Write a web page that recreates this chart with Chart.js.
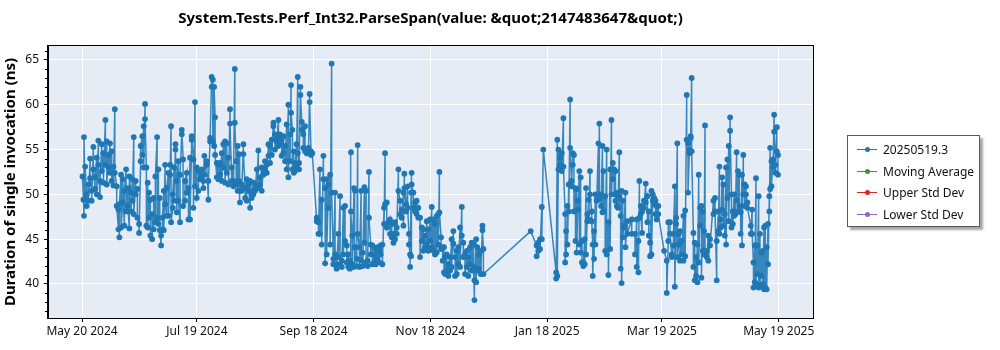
<!DOCTYPE html>
<html>
<head>
<meta charset="utf-8">
<script src="https://cdn.jsdelivr.net/npm/chart.js@4.4.1/dist/chart.umd.min.js"></script>
<style>
  body { margin: 0; background: #fff; }
  #wrap { position: relative; width: 1000px; height: 350px; }
  #legend {
    position: absolute; left: 847px; top: 135px; width: 133px; height: 92px;
    box-sizing: border-box; border: 1px solid #5a5a5a; background: #fff;
    box-shadow: 3px 3px 2px rgba(0,0,0,0.35);
    font: 12px "Noto Sans", sans-serif; color: #111; padding-top: 3px;
  }
  .row { height: 21.5px; display: flex; align-items: center; }
  .sw { position: relative; width: 20px; height: 12px; margin: 0 6px 0 9px; }
  .sw:before { content: ""; position: absolute; left: 0; right: 0; top: 5.5px; height: 1.2px; background: var(--c); }
  .sw:after { content: ""; position: absolute; left: 7.5px; top: 3.5px; width: 5px; height: 5px; border-radius: 50%; background: var(--c); }
</style>
</head>
<body>
<div id="wrap">
  <canvas id="perfChart" width="1000" height="350"></canvas>
  <div id="legend"></div>
</div>
<script>
// days since May 20 2024 for each run; runA / runB = the measured durations (ns) on that day
const runDays = [
  0.2,0.7,1.0,1.6,2.4,3.3,4.2,5.0,5.9,6.8,7.7,8.5,9.4,10.3,11.1,12.2,12.9,13.8,14.6,15.5,16.4,17.1,18.1,19.0,19.5,
  20.4,21.2,22.1,23.0,23.9,24.7,25.6,26.3,27.0,28.0,28.9,29.8,30.6,31.5,32.2,32.9,33.6,34.3,35.0,35.7,36.6,37.4,38.3,
  39.2,39.9,40.6,41.3,42.0,42.7,43.4,44.2,45.1,46.0,46.5,47.4,48.1,48.8,49.5,50.3,51.2,52.1,52.8,53.8,54.7,55.6,56.4,
  57.3,58.2,59.0,59.9,60.8,
  61.6,62.5,63.4,63.9,65.1,66.0,66.9,67.7,68.3,69.0,69.5,70.4,71.2,72.1,73.0,73.8,74.7,75.6,76.5,77.3,78.2,79.1,79.8,
  80.5,81.3,82.0,82.5,83.4,84.3,85.2,86.0,86.9,87.8,88.6,89.5,90.4,91.3,92.1,93.0,93.9,94.7,95.6,96.5,97.4,98.2,99.1,
  100.0,100.8,101.7,102.6,103.4,104.3,105.2,106.1,106.9,107.8,108.7,109.2,109.9,110.6,111.3,112.0,112.7,113.4,114.1,
  114.8,115.6,116.5,117.4,118.3,118.9,119.6,120.3,
  122.6,123.5,124.3,125.2,126.1,127.0,127.8,128.7,129.6,130.4,131.3,132.2,133.0,133.9,134.8,135.7,136.5,137.4,138.3,
  139.1,140.0,140.5,141.2,142.1,142.6,143.5,144.0,144.9,145.8,146.6,147.5,148.4,149.2,149.9,150.8,151.7,152.6,153.4,
  154.3,155.2,156.0,156.9,157.8,158.3,159.2,160.0,160.9,161.8,162.7,163.5,164.4,165.3,166.1,167.0,167.9,168.4,169.3,
  170.1,170.8,171.4,171.9,172.2,173.1,174.0,174.8,175.7,
  176.6,177.5,178.3,179.2,180.1,180.9,181.8,182.7,183.6,184.4,185.3,186.2,186.7,187.6,188.4,189.1,189.7,190.5,191.4,
  192.3,193.1,194.0,194.9,195.8,196.6,197.5,198.4,199.2,200.1,201.0,201.8,202.7,203.6,204.5,205.0,205.9,206.5,207.4,
  208.3,209.2,209.7,234.4,237.5,238.4,239.3,240.2,241.0,
  247.7,248.3,248.9,249.7,250.6,251.5,252.4,252.9,253.6,254.3,255.0,255.7,256.4,257.0,257.8,258.4,259.1,259.8,260.5,
  261.2,261.9,262.6,263.3,264.0,264.7,265.4,266.3,266.8,267.5,268.2,268.9,269.8,270.3,271.2,271.9,272.4,273.3,274.1,
  275.0,275.9,276.6,277.3,278.0,278.7,279.4,280.0,280.7,281.4,281.9,282.5,283.2,283.9,284.9,287.2,288.9,289.8,290.7,
  291.2,291.9,292.6,293.6,294.5,295.4,296.1,296.8,297.5,298.2,298.9,299.6,300.2,301.1,304.1,
  305.5,306.3,307.2,308.1,309.0,309.7,310.4,311.0,311.7,312.4,313.3,314.2,315.1,315.9,316.6,317.3,318.0,318.5,319.4,
  320.1,320.8,321.5,322.2,322.9,323.6,324.3,325.0,325.5,326.4,327.2,328.1,329.9,330.7,331.6,332.5,333.0,333.7,334.4,
  335.1,335.8,336.5,337.2,337.9,338.6,339.3,340.0,340.7,341.4,342.0,342.7,343.4,344.1,344.8,345.5,346.2,346.9,347.6,
  349.4,350.1,350.8,351.5,352.1,352.8,353.5,354.2,355.0,355.6,356.3,357.0,357.7,358.4,359.1,359.5,360.2,361.0,361.6,
  362.3,363.0,363.6
];
const runA = [
  52.0,49.4,47.6,49.4,50.0,51.1,54.0,50.4,55.3,50.6,54.1,56.0,49.7,55.6,54.6,58.3,55.9,54.4,55.7,54.8,53.1,59.5,50.9,46.1,45.2,
  52.2,49.1,46.5,52.8,50.7,46.2,50.2,51.7,56.4,51.5,50.6,46.7,53.7,56.5,57.6,60.1,53.0,51.3,50.2,49.4,45.0,46.1,46.9,
  56.4,52.8,49.6,44.3,46.1,50.4,53.3,47.6,52.4,53.3,57.6,48.5,53.0,55.6,48.0,53.7,46.9,56.7,53.9,49.3,52.4,50.7,54.1,
  56.1,53.9,60.3,53.0,50.4,
  52.6,52.8,50.7,54.3,53.7,49.4,55.9,63.1,62.8,55.4,58.6,51.9,53.3,53.5,54.6,55.6,55.9,55.7,54.1,59.5,51.5,50.9,64.0,
  53.7,55.4,54.5,49.1,51.1,55.6,50.7,49.3,50.4,48.5,50.2,51.3,50.7,52.8,54.9,51.9,53.0,52.8,53.7,53.3,55.6,55.4,56.1,
  58.0,56.7,56.3,58.3,56.7,56.1,56.5,55.4,57.8,60.0,56.7,62.2,57.2,54.8,53.5,55.6,63.1,53.5,62.0,
  58.1,56.7,57.6,55.0,55.2,61.2,54.8,54.6,
  47.0,46.9,52.8,49.4,54.3,50.7,51.7,51.1,52.2,64.6,42.8,50.2,42.2,45.6,49.8,42.6,48.5,48.7,44.3,
  43.3,42.6,54.7,45.4,50.7,50.4,42.8,55.5,44.1,50.4,43.5,50.8,50.4,42.6,52.5,44.4,44.3,43.3,43.9,
  44.1,43.7,44.3,44.4,48.5,54.6,49.1,46.9,47.2,46.7,45.6,46.9,46.3,52.8,49.3,48.3,50.2,52.3,48.9,
  50.9,45.6,43.3,50.2,52.4,50.2,49.1,49.3,48.5,
  47.4,46.3,46.1,45.4,47.0,46.1,47.2,48.6,47.2,46.7,47.6,47.8,52.5,45.2,44.1,44.1,43.0,43.3,42.2,
  43.0,45.0,45.9,43.0,43.7,44.1,46.3,48.6,44.6,43.3,43.7,43.0,44.1,44.6,44.4,38.2,45.0,44.1,43.3,
  43.7,46.5,43.9,45.9,44.3,44.6,45.0,48.6,55.0,
  41.3,56.1,55.0,54.1,54.6,58.5,47.8,45.9,48.7,51.1,60.6,51.5,54.6,54.4,50.7,50.6,49.3,52.6,51.9,
  44.8,42.4,45.0,50.7,47.8,49.4,52.6,48.1,44.4,45.9,50.0,49.4,55.7,57.9,50.0,55.4,52.6,49.8,55.0,
  46.9,52.8,58.3,53.5,52.8,52.6,50.2,49.6,54.7,47.6,50.4,49.3,46.5,50.2,47.0,47.2,45.6,47.2,44.8,
  51.5,48.7,45.7,49.3,51.2,49.8,48.1,44.6,50.4,50.0,49.6,49.3,48.7,48.7,43.7,
  42.6,44.8,46.9,43.3,44.3,50.9,47.4,55.7,44.4,45.9,44.8,47.6,48.2,61.1,55.7,55.0,56.3,63.0,45.7,
  44.6,43.0,44.4,52.2,48.5,48.7,48.1,45.9,57.7,43.7,45.4,45.0,49.3,49.6,40.4,48.1,53.1,47.2,51.9,
  51.1,47.8,53.0,53.9,55.4,58.6,50.0,48.1,50.0,48.1,54.7,52.6,52.2,48.0,52.2,54.4,51.1,50.9,49.1,
  46.5,48.3,42.4,44.3,51.8,44.3,49.8,45.6,43.5,43.7,46.3,46.5,44.1,46.7,49.8,55.2,53.7,53.9,58.9,
  53.3,57.5,54.4
];
const runB = [
  null,null,56.4,53.1,48.7,49.3,51.8,49.3,52.8,51.9,50.0,53.3,51.5,52.6,51.3,53.3,51.1,53.0,52.4,51.5,51.0,52.4,48.7,48.3,48.9,
  46.3,51.7,50.4,48.1,48.7,52.0,48.1,49.3,47.8,50.0,47.4,45.7,55.4,54.4,53.0,58.4,46.5,46.3,47.4,45.4,47.8,49.6,52.0,
  47.4,46.7,46.0,45.4,47.4,46.0,48.9,50.7,47.6,52.2,46.9,50.0,49.3,55.0,51.5,49.3,52.2,57.2,48.7,51.5,50.2,47.2,47.2,
  56.5,48.5,50.9,49.6,52.6,
  51.7,52.0,51.5,52.2,53.3,51.5,56.3,62.0,55.9,62.0,54.4,53.5,51.7,52.2,51.5,53.0,51.3,52.4,51.1,57.9,53.0,51.5,58.0,
  51.1,50.4,51.5,50.4,50.4,54.5,49.6,51.7,51.1,51.5,49.6,50.0,50.4,50.9,50.7,51.1,50.4,52.2,52.8,52.4,54.3,53.5,54.4,
  57.6,55.0,55.9,55.4,55.7,54.3,54.6,53.7,52.8,51.9,53.7,59.1,52.8,52.4,52.6,53.1,54.6,52.8,61.1,
  57.2,55.2,54.8,54.6,55.0,60.3,54.4,null,
  47.4,45.6,45.6,44.4,51.7,42.3,43.3,48.5,44.4,50.2,42.2,43.3,41.7,43.0,42.2,41.9,43.3,44.8,42.4,
  41.9,41.7,48.1,42.2,41.9,44.1,42.0,45.6,41.9,42.6,42.0,44.6,42.4,42.0,47.4,43.3,42.2,42.4,42.2,
  42.8,42.4,43.3,42.2,46.7,48.9,46.3,46.5,45.6,45.2,44.6,45.0,45.6,50.4,47.8,47.4,46.5,50.7,48.1,
  48.5,44.4,41.9,43.1,51.1,48.5,48.1,47.8,47.4,
  43.0,44.8,43.7,44.1,44.4,43.7,44.8,44.1,43.7,43.3,43.5,44.4,48.0,43.9,42.6,41.3,41.1,41.5,40.9,
  41.5,41.9,44.5,40.9,41.1,42.2,41.9,45.4,43.0,41.1,41.9,40.9,42.2,41.5,41.9,40.4,40.2,41.5,41.7,
  41.1,46.0,41.1,null,43.1,43.7,43.9,45.0,null,
  40.6,40.9,52.8,53.3,52.6,53.1,42.4,43.3,44.4,48.1,55.2,50.9,53.3,48.1,44.8,43.5,48.3,44.4,43.5,
  42.4,42.0,42.2,43.3,47.0,47.2,50.0,47.0,40.9,42.8,44.4,49.3,49.4,49.6,48.7,48.0,48.1,43.7,43.3,
  41.0,43.9,50.0,51.7,50.0,49.3,48.7,48.5,49.8,41.7,40.1,45.2,46.3,44.1,45.6,45.6,43.3,41.9,41.3,
  47.4,47.8,48.1,48.5,49.1,46.9,45.4,43.1,43.3,49.3,48.9,47.8,47.2,47.8,null,
  39.0,46.9,45.6,43.0,45.6,39.7,46.7,43.0,45.6,42.6,43.3,42.6,43.1,56.1,50.2,54.6,56.5,54.8,41.9,
  40.4,40.9,40.2,42.4,46.5,40.7,43.7,43.3,43.5,43.0,42.6,44.3,47.8,48.1,44.8,45.9,45.6,46.3,48.3,
  46.5,45.4,44.4,49.6,47.0,57.1,46.3,46.7,47.6,47.8,49.3,48.1,48.7,45.6,44.3,50.0,48.7,50.0,48.5,
  45.6,45.6,39.6,40.2,40.0,41.1,39.6,39.8,40.9,40.0,39.4,39.6,39.4,42.2,48.1,50.6,50.9,53.0,57.0,
  52.4,54.8,52.2
];

const tickDays = [0, 60, 121, 182, 243, 303, 364];
const tickLabels = ['May 20 2024', 'Jul 19 2024', 'Sep 18 2024', 'Nov 18 2024', 'Jan 18 2025', 'Mar 19 2025', 'May 19 2025'];
const yTicks = [40, 45, 50, 55, 60, 65];

const titleText = 'System.Tests.Perf_Int32.ParseSpan(value: &quot;2147483647&quot;)';
const fontFamily = '"Noto Sans", "DejaVu Sans", sans-serif';

// flatten day/run pairs into points
const points = [];
const n = Math.min(runDays.length, runA.length, runB.length);
for (let i = 0; i < n; i++) {
    points.push({ x: runDays[i], y: runA[i] });
    if (runB[i] !== null) points.push({ x: runDays[i], y: runB[i] });
}

const plotBg = {
    id: 'plotBg',
    beforeDraw(chart) {
        const a = chart.chartArea, ctx = chart.ctx;
        ctx.save();
        ctx.fillStyle = '#e5ecf6';
        ctx.fillRect(a.left, a.top, a.right - a.left, a.bottom - a.top);
        ctx.restore();
    },
    afterDraw(chart) {
        const a = chart.chartArea, ctx = chart.ctx;
        const ys = chart.scales.y;
        ctx.save();
        // frame
        ctx.strokeStyle = '#000';
        ctx.lineWidth = 1;
        ctx.strokeRect(a.left - 0.5, a.top - 0.5, a.right - a.left + 1, a.bottom - a.top + 1);
        // minor ticks on the y axis
        for (let v = Math.ceil(ys.min); v <= ys.max; v++) {
            if (v % 5 === 0) continue;
            const py = Math.round(ys.getPixelForValue(v)) + 0.5;
            ctx.beginPath();
            ctx.moveTo(a.left - 3, py);
            ctx.lineTo(a.left, py);
            ctx.stroke();
        }
        // title, centred over the plot
        ctx.fillStyle = '#000';
        ctx.font = 'bold 15px ' + fontFamily;
        ctx.textAlign = 'center';
        ctx.textBaseline = 'middle';
        ctx.fillText(titleText, (a.left + a.right) / 2, 19);
        ctx.restore();
    }
};

const chart = new Chart(document.getElementById('perfChart'), {
    type: 'line',
    data: {
        datasets: [{
            label: '20250519.3',
            data: points,
            borderColor: 'rgba(31, 119, 180, 0.88)',
            backgroundColor: '#1f77b4',
            borderWidth: 1.5,
            pointRadius: 2.9,
            pointBorderWidth: 0,
            pointBackgroundColor: '#1f77b4',
            tension: 0
        }, {
            label: 'Moving Average',
            data: [],
            borderColor: '#2ca02c',
            backgroundColor: '#2ca02c'
        }, {
            label: 'Upper Std Dev',
            data: [],
            borderColor: '#d62728',
            backgroundColor: '#d62728'
        }, {
            label: 'Lower Std Dev',
            data: [],
            borderColor: '#9467bd',
            backgroundColor: '#9467bd'
        }]
    },
    options: {
        responsive: false,
        animation: false,
        devicePixelRatio: 1,
        layout: { padding: { left: 0, right: 187, top: 46, bottom: 0 } },
        plugins: {
            legend: { display: false },
            tooltip: { enabled: false }
        },
        scales: {
            x: {
                type: 'linear',
                min: -17.8,
                max: 381.9,
                afterBuildTicks: (scale) => { scale.ticks = tickDays.map(v => ({ value: v })); },
                afterFit: (scale) => { scale.height = 32; },
                ticks: {
                    autoSkip: false,
                    maxRotation: 0,
                    padding: 2,
                    color: '#111',
                    font: { family: fontFamily, size: 12 },
                    callback: (v) => tickLabels[tickDays.indexOf(v)]
                },
                grid: { color: '#ffffff', lineWidth: 1, tickColor: '#000', tickLength: 4 },
                border: { display: true, color: '#000' }
            },
            y: {
                min: 36.2,
                max: 66.56,
                afterBuildTicks: (scale) => { scale.ticks = yTicks.map(v => ({ value: v })); },
                afterFit: (scale) => { scale.width = 48; },
                ticks: {
                    padding: 5,
                    color: '#111',
                    font: { family: fontFamily, size: 12 }
                },
                grid: { color: '#ffffff', lineWidth: 1, tickColor: '#000', tickLength: 4 },
                border: { display: true, color: '#000' },
                title: {
                    display: true,
                    text: 'Duration of single invocation (ns)',
                    color: '#000',
                    font: { family: fontFamily, size: 15, weight: 'bold' },
                    padding: { top: 2, bottom: 0 }
                }
            }
        }
    },
    plugins: [plotBg]
});

// HTML legend built from the datasets
const legend = document.getElementById('legend');
chart.data.datasets.forEach(ds => {
    const row = document.createElement('div');
    row.className = 'row';
    const sw = document.createElement('span');
    sw.className = 'sw';
    sw.style.setProperty('--c', ds.backgroundColor);
    const txt = document.createElement('span');
    txt.textContent = ds.label;
    row.appendChild(sw);
    row.appendChild(txt);
    legend.appendChild(row);
});
</script>
</body>
</html>
